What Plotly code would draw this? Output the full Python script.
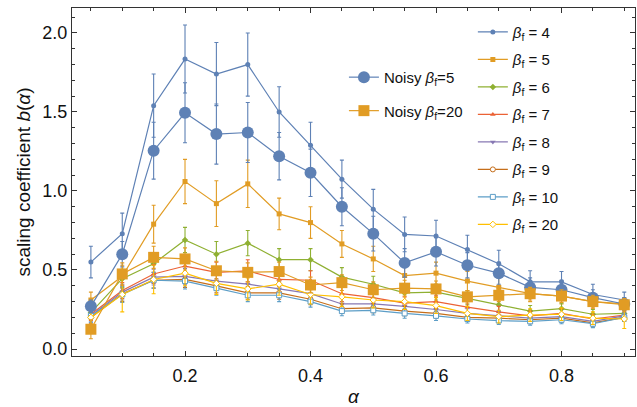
import plotly.graph_objects as go

# alpha grid
alpha = [0.05, 0.10, 0.15, 0.20, 0.25, 0.30, 0.35, 0.40, 0.45,
         0.50, 0.55, 0.60, 0.65, 0.70, 0.75, 0.80, 0.85, 0.90]

# scaling coefficient b(alpha) for each beta_f, with error estimates
b_beta4 = [0.55, 0.73, 1.54, 1.835, 1.74, 1.80, 1.50, 1.29, 1.075,
           0.885, 0.725, 0.715, 0.63, 0.54, 0.425, 0.425, 0.345, 0.31]
e_beta4 = [0.10, 0.13, 0.20, 0.215, 0.20, 0.20, 0.16, 0.145, 0.12,
           0.125, 0.11, 0.10, 0.09, 0.085, 0.07, 0.065, 0.065, 0.05]

b_beta5 = [0.31, 0.46, 0.79, 1.06, 0.92, 1.045, 0.855, 0.80, 0.665,
           0.57, 0.465, 0.48, 0.43, 0.39, 0.35, 0.335, 0.30, 0.285]
e_beta5 = [0.05, 0.07, 0.12, 0.14, 0.145, 0.15, 0.10, 0.10, 0.085,
           0.08, 0.07, 0.07, 0.06, 0.06, 0.05, 0.05, 0.045, 0.04]

b_beta6 = [0.23, 0.445, 0.54, 0.69, 0.60, 0.67, 0.565, 0.565, 0.455,
           0.41, 0.355, 0.36, 0.32, 0.28, 0.24, 0.255, 0.22, 0.225]
e_beta6 = [0.04, 0.06, 0.07, 0.08, 0.08, 0.08, 0.07, 0.07, 0.06,
           0.05, 0.05, 0.05, 0.04, 0.04, 0.035, 0.035, 0.03, 0.03]

b_beta7 = [0.22, 0.37, 0.475, 0.525, 0.485, 0.495, 0.44, 0.435, 0.35,
           0.325, 0.29, 0.30, 0.265, 0.235, 0.21, 0.225, 0.19, 0.215]
e_beta7 = [0.04, 0.05, 0.06, 0.07, 0.065, 0.07, 0.06, 0.06, 0.05,
           0.045, 0.04, 0.04, 0.035, 0.035, 0.03, 0.03, 0.03, 0.03]

b_beta8 = [0.21, 0.36, 0.455, 0.46, 0.43, 0.41, 0.38, 0.35, 0.285,
           0.285, 0.27, 0.25, 0.225, 0.21, 0.195, 0.205, 0.175, 0.21]
e_beta8 = [0.04, 0.05, 0.05, 0.05, 0.05, 0.05, 0.045, 0.04, 0.035,
           0.035, 0.03, 0.03, 0.03, 0.03, 0.025, 0.025, 0.025, 0.025]

b_beta9 = [0.20, 0.35, 0.435, 0.44, 0.40, 0.355, 0.355, 0.315, 0.255,
           0.26, 0.24, 0.225, 0.20, 0.195, 0.185, 0.195, 0.165, 0.20]
e_beta9 = [0.04, 0.05, 0.05, 0.05, 0.045, 0.04, 0.04, 0.035, 0.03,
           0.03, 0.03, 0.03, 0.025, 0.025, 0.025, 0.025, 0.025, 0.025]

b_beta10 = [0.21, 0.345, 0.435, 0.43, 0.385, 0.34, 0.34, 0.30, 0.24,
            0.245, 0.225, 0.21, 0.19, 0.18, 0.175, 0.185, 0.16, 0.20]
e_beta10 = [0.04, 0.05, 0.05, 0.05, 0.045, 0.04, 0.04, 0.035, 0.03,
            0.03, 0.03, 0.03, 0.025, 0.025, 0.025, 0.025, 0.025, 0.025]

b_beta20 = [0.20, 0.345, 0.44, 0.48, 0.415, 0.38, 0.41, 0.345, 0.33,
            0.31, 0.30, 0.275, 0.225, 0.205, 0.215, 0.22, 0.195, 0.19]
e_beta20 = [0.06, 0.11, 0.09, 0.08, 0.07, 0.07, 0.07, 0.06, 0.06,
            0.05, 0.05, 0.05, 0.045, 0.04, 0.04, 0.04, 0.04, 0.06]

# noisy runs
b_noisy5 = [0.27, 0.60, 1.255, 1.495, 1.36, 1.37, 1.22, 1.115, 0.90,
            0.73, 0.545, 0.615, 0.53, 0.48, 0.39, 0.375, 0.325, 0.285]
e_noisy5 = [0.04, 0.08, 0.18, 0.19, 0.19, 0.19, 0.15, 0.15, 0.12,
            0.11, 0.09, 0.09, 0.08, 0.07, 0.06, 0.06, 0.05, 0.04]

b_noisy20 = [0.125, 0.475, 0.58, 0.57, 0.495, 0.485, 0.49, 0.405, 0.42,
             0.375, 0.385, 0.38, 0.33, 0.34, 0.35, 0.335, 0.30, 0.28]
e_noisy20 = [0.06, 0.07, 0.07, 0.07, 0.06, 0.06, 0.06, 0.05, 0.05,
             0.05, 0.05, 0.05, 0.04, 0.04, 0.04, 0.04, 0.04, 0.04]

beta_labels = ["4", "5", "6", "7", "8", "9", "10", "20"]
beta_values = [b_beta4, b_beta5, b_beta6, b_beta7, b_beta8, b_beta9, b_beta10, b_beta20]
beta_errors = [e_beta4, e_beta5, e_beta6, e_beta7, e_beta8, e_beta9, e_beta10, e_beta20]

colors = ["#5E81B5", "#E19C24", "#8FB032", "#EB6235",
          "#8778B3", "#C56E1A", "#5D9EC7", "#FFBF00"]
symbols = ["circle", "square", "diamond", "triangle-up",
           "triangle-down", "circle", "square", "diamond"]
hollow = [False, False, False, False, False, True, True, True]

FONT = "Liberation Sans, Arial, sans-serif"

fig = go.Figure()

for i, (lab, vals, errs) in enumerate(zip(beta_labels, beta_values, beta_errors)):
    c = colors[i]
    fig.add_trace(go.Scatter(
        x=alpha, y=vals, mode="lines+markers",
        name=f"<i>β</i><sub>f</sub> = {lab}",
        legend="legend", legendgroup=f"b{lab}",
        line=dict(color=c, width=1.2),
        marker=dict(symbol=symbols[i], size=5,
                    color="white" if hollow[i] else c,
                    line=dict(color=c, width=1 if hollow[i] else 0)),
        error_y=dict(type="data", array=errs, color=c, thickness=1.1, width=2),
    ))

noisy = [("5", b_noisy5, e_noisy5, colors[0], "circle", 12),
         ("20", b_noisy20, e_noisy20, colors[1], "square", 11)]
for lab, vals, errs, c, sym, sz in noisy:
    fig.add_trace(go.Scatter(
        x=alpha, y=vals, mode="lines+markers",
        name=f"Noisy <i>β</i><sub>f</sub>={lab}",
        legend="legend2", legendgroup=f"n{lab}",
        line=dict(color=c, width=1.2),
        marker=dict(symbol=sym, size=sz, color=c),
        error_y=dict(type="data", array=errs, color=c, thickness=1.1, width=2),
    ))

frame = "#333333"
axis_common = dict(
    showline=True, linecolor=frame, linewidth=1.2, mirror="allticks",
    ticks="inside", ticklen=5, tickwidth=1, tickcolor=frame,
    showgrid=False, zeroline=False, automargin=False,
    tickfont=dict(family=FONT, size=18, color="#111"),
)

fig.update_xaxes(
    range=[0.0199, 0.9171], tickvals=[0.2, 0.4, 0.6, 0.8],
    ticktext=["0.2", "0.4", "0.6", "0.8"], ticklabelstandoff=3,
    minor=dict(dtick=0.05, tick0=0, ticks="inside", ticklen=3, tickcolor=frame, showgrid=False),
    title=dict(text="<i>α</i>", font=dict(family=FONT, size=19, color="#111"), standoff=38),
    **axis_common,
)
fig.update_yaxes(
    range=[-0.0443, 2.158], tickvals=[0.0, 0.5, 1.0, 1.5, 2.0],
    ticktext=["0.0", "0.5", "1.0", "1.5", "2.0"],
    minor=dict(dtick=0.1, tick0=0, ticks="inside", ticklen=3, tickcolor=frame, showgrid=False),
    title=dict(text="scaling coefficient <i>b</i>(<i>α</i>)",
               font=dict(family=FONT, size=19, color="#111"), standoff=6),
    **axis_common,
)

fig.update_layout(
    width=637, height=407,
    margin=dict(l=72, r=2, t=8, b=51),
    paper_bgcolor="white", plot_bgcolor="white",
    font=dict(family=FONT, color="#111"),
    legend=dict(x=0.712, y=0.978, xanchor="left", yanchor="top",
                bgcolor="rgba(0,0,0,0)", itemwidth=30, tracegroupgap=5,
                font=dict(family=FONT, size=15, color="#111")),
    legend2=dict(x=0.483, y=0.848, xanchor="left", yanchor="top",
                 bgcolor="rgba(0,0,0,0)", itemwidth=30, tracegroupgap=11,
                 font=dict(family=FONT, size=15, color="#111")),
)

fig.write_html("out.html")
